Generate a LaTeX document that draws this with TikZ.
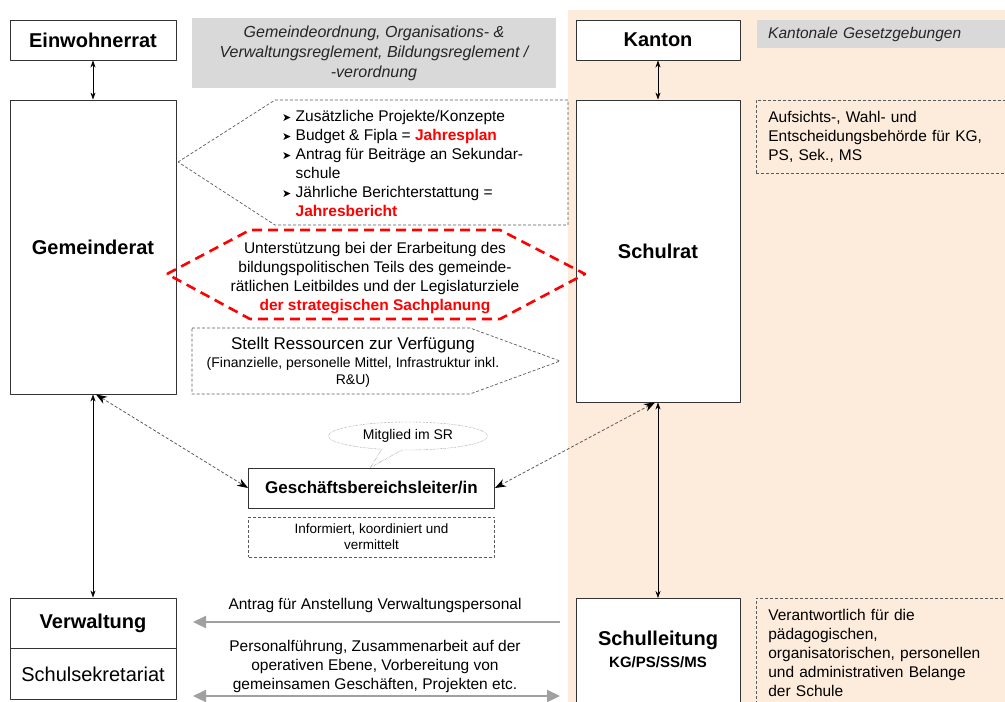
\documentclass[tikz,border=0pt]{standalone}
\usepackage{fontspec}
\setmainfont{Liberation Sans}
\newfontfamily\symfont{DejaVu Sans}
\usetikzlibrary{arrows.meta,shapes.callouts}
\definecolor{peach}{RGB}{253,235,219}
\definecolor{lightgrey}{RGB}{217,217,217}
\definecolor{dashgrey}{RGB}{90,90,90}
\definecolor{arrowgrey}{RGB}{160,160,160}
\definecolor{hotred}{RGB}{255,0,0}
\newcommand\bul{{\symfont\fontsize{11}{11}\selectfont ➤}}
\newcommand\hl[1]{\textcolor{hotred}{\textbf{#1}}}
\begin{document}
\begin{tikzpicture}[x=1pt,y=-1pt, line join=round,
    unit/.style={draw=black!80, fill=white, line width=0.9pt, inner sep=0pt, align=center, font=\fontsize{20}{24}\selectfont\bfseries},
    note/.style={draw=dashgrey, dash pattern=on 3pt off 2pt, line width=0.7pt},
    txt/.style={inner sep=0pt, align=center, font=\fontsize{15.5}{19}\selectfont},
    law/.style={fill=lightgrey, inner sep=0pt, text=black!85, font=\fontsize{16}{20}\selectfont\itshape},
    link/.style={{Stealth[length=7pt,width=5pt]}-{Stealth[length=7pt,width=5pt]}, line width=0.7pt},
    dlink/.style={{Stealth[length=11pt,width=8pt,black]}-{Stealth[length=11pt,width=8pt,black]}, dashgrey, line width=0.8pt, dash pattern=on 3pt off 2pt},
    flow/.style={arrowgrey, line width=2.2pt, -{Triangle[length=13pt,width=12pt]}},
    redline/.style={hotred, line width=2.6pt, dash pattern=on 10pt off 6pt}]
  \useasboundingbox (0,0) rectangle (1005,702);
  \fill[peach] (568,10) rectangle (1005,702);
  % Gemeinde side
  \node[unit, minimum width=166, minimum height=40] (er) at (93,40) {Einwohnerrat};
  \node[law, minimum width=364, minimum height=70, align=center] (gord) at (374,53)
    {Gemeindeordnung, Organisations- \&\\Verwaltungsreglement, Bildungsreglement /\\-verordnung};
  \node[unit, minimum width=166, minimum height=294] (gr) at (93,247) {Gemeinderat};
  % Kanton side
  \node[unit, minimum width=164, minimum height=40] (kt) at (658,40) {Kanton};
  \node[law, anchor=north west, text width=226, inner xsep=11, minimum height=28, align=left,
    font=\fontsize{15.5}{19}\selectfont\itshape] (kgg) at (757,20) {Kantonale Gesetzgebungen};
  \node[unit, minimum width=164, minimum height=302] (sr) at (658,251) {Schulrat};
  \node[note, txt, anchor=north west, text width=237, inner xsep=12, minimum height=73, align=left] (auth) at (756,100)
    {Aufsichts-, Wahl- und\\Entscheidungsbehörde für KG,\\PS, Sek., MS};
  % callouts in the middle
  \draw[note] (178,162) -- (275,100) -- (568,100) -- (568,225) -- (275,225) -- cycle;
  \node[txt, anchor=west, align=left] (tasks) at (282,163)
    {\bul\ Zusätzliche Projekte/Konzepte\\
     \bul\ Budget \& Fipla = \hl{Jahresplan}\\
     \bul\ Antrag für Beiträge an Sekundar-\\
     \phantom{\bul\ }schule\\
     \bul\ Jährliche Berichterstattung =\\
     \phantom{\bul\ }\hl{Jahresbericht}};
  \draw[redline] (167,274) -- (250,230) -- (500,230) -- (585,274) -- (500,319) -- (250,319) -- cycle;
  \node[txt] (support) at (375,278)
    {Unterstützung bei der Erarbeitung des\\bildungspolitischen Teils des gemeinde-\\rätlichen Leitbildes und der Legislaturziele\\\hl{der strategischen Sachplanung}};
  \draw[note] (192,328) -- (470,328) -- (560,361) -- (470,394) -- (192,394) -- cycle;
  \node[txt, font=\fontsize{14}{17}\selectfont] (res) at (353,362)
    {{\fontsize{17}{17}\selectfont Stellt Ressourcen zur Verfügung}\\[1pt](Finanzielle, personelle Mittel, Infrastruktur inkl.\\R\&U)};
  % Geschaeftsbereichsleitung
  \node[unit, minimum width=246, minimum height=40, font=\fontsize{17}{20}\selectfont\bfseries] (gbl) at (371.5,488) {Geschäftsbereichsleiter/in};
  \node[ellipse callout, draw=dashgrey, densely dotted, fill=white, inner sep=1pt, minimum width=159, minimum height=28,
    callout absolute pointer={([xshift=-1]gbl.north)}, font=\fontsize{14}{17}\selectfont] (member) at (408,436) {Mitglied im SR};
  \node[note, txt, minimum width=246, minimum height=40, font=\fontsize{13.5}{16}\selectfont] (coord) at (371.5,537)
    {Informiert, koordiniert und\\vermittelt};
  % operative level
  \node[unit, minimum width=166, minimum height=50] (vw) at (93,623) {Verwaltung};
  \node[unit, anchor=north, minimum width=166, minimum height=51, font=\fontsize{20}{24}\selectfont] (ssk) at (vw.south) {Schulsekretariat};
  \node[unit, anchor=north, minimum width=164, minimum height=110] (sl) at (658,598)
    {Schulleitung\\[-2pt]{\fontsize{15}{18}\selectfont KG/PS/SS/MS}\\[-16pt]\mbox{}};
  \node[note, txt, anchor=north west, text width=237, inner xsep=12, minimum height=110, align=left] (duty) at (756,598)
    {Verantwortlich für die\\pädagogischen,\\organisatorischen, personellen\\und administrativen Belange\\der Schule};
  \coordinate (req-from) at (560,622);
  \coordinate (req-to) at (193,622);
  \coordinate (coop-l) at (193,696);
  \coordinate (coop-r) at (560,696);
  \node[txt] (req) at (375,605) {Antrag für Anstellung Verwaltungspersonal};
  \node[txt] (coop) at (375,666) {Personalführung, Zusammenarbeit auf der\\operativen Ebene, Vorbereitung von\\gemeinsamen Geschäften, Projekten etc.};
  % connectors
  \draw[link] (er.south) -- (gr.north);
  \draw[link] (kt.south) -- (sr.north);
  \draw[link] (gr.south) -- (vw.north);
  \draw[link] (sr.south) -- (sl.north);
  \draw[dlink] ([xshift=3]gr.south) -- (gbl.west);
  \draw[dlink] ([xshift=-3]sr.south) -- (gbl.east);
  \draw[flow] (req-from) -- (req-to);
  \draw[flow, {Triangle[length=13pt,width=12pt]}-{Triangle[length=13pt,width=12pt]}] (coop-l) -- (coop-r);
\end{tikzpicture}
\end{document}
